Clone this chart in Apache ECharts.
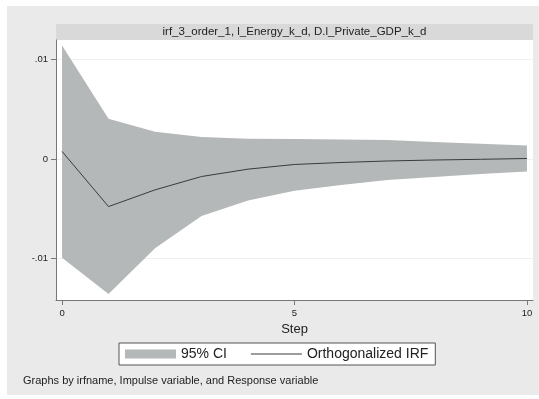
<!DOCTYPE html>
<html>
<head>
<meta charset="utf-8">
<script src="https://cdn.jsdelivr.net/npm/echarts@6/dist/echarts.min.js"></script>
<style>
  html, body { margin: 0; padding: 0; background: #fff; }
  #irf { width: 539px; height: 399px; }
</style>
</head>
<body>
<div id="irf"></div>
<script>
// steps and values
var steps = [0, 1, 2, 3, 4, 5, 6, 7, 8, 9, 10];
var irfVals = [0.00076, -0.00478, -0.0031, -0.00176, -0.00102, -0.00055, -0.00035, -0.0002, -0.0001, -0.00003, 0.00005];
var ciUpper = [0.0114, 0.00405, 0.00273, 0.0022, 0.00203, 0.002, 0.00197, 0.0019, 0.00172, 0.00153, 0.00136];
var ciLower = [-0.00992, -0.01357, -0.00897, -0.00572, -0.00418, -0.0032, -0.0026, -0.0021, -0.0018, -0.0015, -0.00126];
var xTicks = [0, 5, 10];
var yTicks = [-0.01, 0, 0.01];
var yTickText = { '-0.01': '-.01', '0': '0', '0.01': '.01' };

var FONT = 'Liberation Sans';

var ciRows = steps.map(function (s, i) { return [s, ciLower[i], ciUpper[i]]; });
var irfPts = steps.map(function (s, i) { return [s, irfVals[i]]; });

// whole CI band as one polygon, drawn once
var renderBand = function (params, api) {
  if (params.dataIndex !== 0) return null;
  var top = [], bot = [];
  for (var i = 0; i < ciRows.length; i++) {
    top.push(api.coord([ciRows[i][0], ciRows[i][2]]));
    bot.push(api.coord([ciRows[i][0], ciRows[i][1]]));
  }
  return {
    type: 'polygon',
    shape: { points: top.concat(bot.reverse()) },
    style: { fill: '#b5b8b8', stroke: null }
  };
};

// thin line in the middle of a 51x9 box (tiny corner specks keep the box size)
var lineIcon = 'path://M0,0 L0.01,0 L0.01,0.01 Z M0,4 L51,4 L51,5 L0,5 Z M50.99,8.99 L51,8.99 L51,9 Z';

var myChart = echarts.init(document.getElementById('irf'), null, { renderer: 'canvas' });

var option = {
  animation: false,
  backgroundColor: '#ffffff',
  textStyle: { fontFamily: FONT },
  graphic: [
    // outer panel
    { type: 'rect', z: -10, shape: { x: 7, y: 6, width: 532, height: 389 }, style: { fill: '#eaeaea' } },
    // subtitle band over the plot
    { type: 'rect', z: -5, shape: { x: 56, y: 24, width: 477, height: 16 }, style: { fill: '#d9d9d9' } },
    {
      type: 'text', left: 23, top: 375,
      style: { text: 'Graphs by irfname, Impulse variable, and Response variable', fill: '#222', font: '11px "Liberation Sans"' }
    }
  ],
  title: {
    text: 'irf_3_order_1, l_Energy_k_d, D.l_Private_GDP_k_d',
    left: 294.5,
    top: 26,
    textAlign: 'center',
    padding: 0,
    textStyle: { fontSize: 11.5, fontWeight: 'normal', color: '#222', fontFamily: FONT }
  },
  grid: {
    left: 56, right: 6, top: 40, bottom: 99,
    show: true, backgroundColor: '#ffffff', borderWidth: 0
  },
  legend: {
    left: 119, top: 343,
    padding: [4, 7, 4, 6],
    backgroundColor: '#ffffff',
    borderColor: '#555',
    borderWidth: 1,
    borderRadius: 0,
    itemWidth: 51,
    itemHeight: 9,
    itemGap: 24,
    symbolKeepAspect: false,
    textStyle: { fontSize: 14, color: '#222', fontFamily: FONT },
    data: [
      { name: '95% CI', icon: 'rect', itemStyle: { color: '#b5b8b8' } },
      { name: 'Orthogonalized IRF', icon: lineIcon, itemStyle: { color: '#3a3a3a' } }
    ]
  },
  xAxis: {
    type: 'value',
    min: -0.13,
    max: 10.13,
    name: 'Step',
    nameLocation: 'middle',
    nameGap: 23,
    nameTextStyle: { fontSize: 13, color: '#222', fontFamily: FONT },
    axisLine: { show: true, onZero: false, lineStyle: { color: '#777', width: 1 } },
    axisTick: { show: true, length: 5, customValues: xTicks, lineStyle: { color: '#777' } },
    axisLabel: { customValues: xTicks, fontSize: 9.5, color: '#222', margin: 8, fontFamily: FONT },
    splitLine: { show: false }
  },
  yAxis: {
    type: 'value',
    min: -0.01417,
    max: 0.01196,
    axisLine: { show: true, onZero: false, lineStyle: { color: '#777', width: 1 } },
    axisTick: { show: true, length: 5, customValues: yTicks, lineStyle: { color: '#777' } },
    axisLabel: {
      customValues: yTicks, fontSize: 9.5, color: '#222', margin: 8, fontFamily: FONT,
      formatter: function (v) {
        var k = String(Math.round(v * 100) / 100);
        return yTickText[k] !== undefined ? yTickText[k] : k;
      }
    },
    splitLine: { show: true, lineStyle: { color: '#efefef', width: 1 } }
  },
  series: [
    {
      name: '95% CI',
      type: 'custom',
      renderItem: renderBand,
      data: ciRows,
      encode: { x: 0, y: [1, 2] },
      itemStyle: { color: '#b5b8b8' },
      silent: true,
      z: 2
    },
    {
      name: 'Orthogonalized IRF',
      type: 'line',
      data: irfPts,
      symbol: 'none',
      z: 5,
      itemStyle: { color: '#3a3a3a' },
      lineStyle: { color: '#3a3a3a', width: 1 }
    }
  ]
};
myChart.setOption(option);
</script>
</body>
</html>
